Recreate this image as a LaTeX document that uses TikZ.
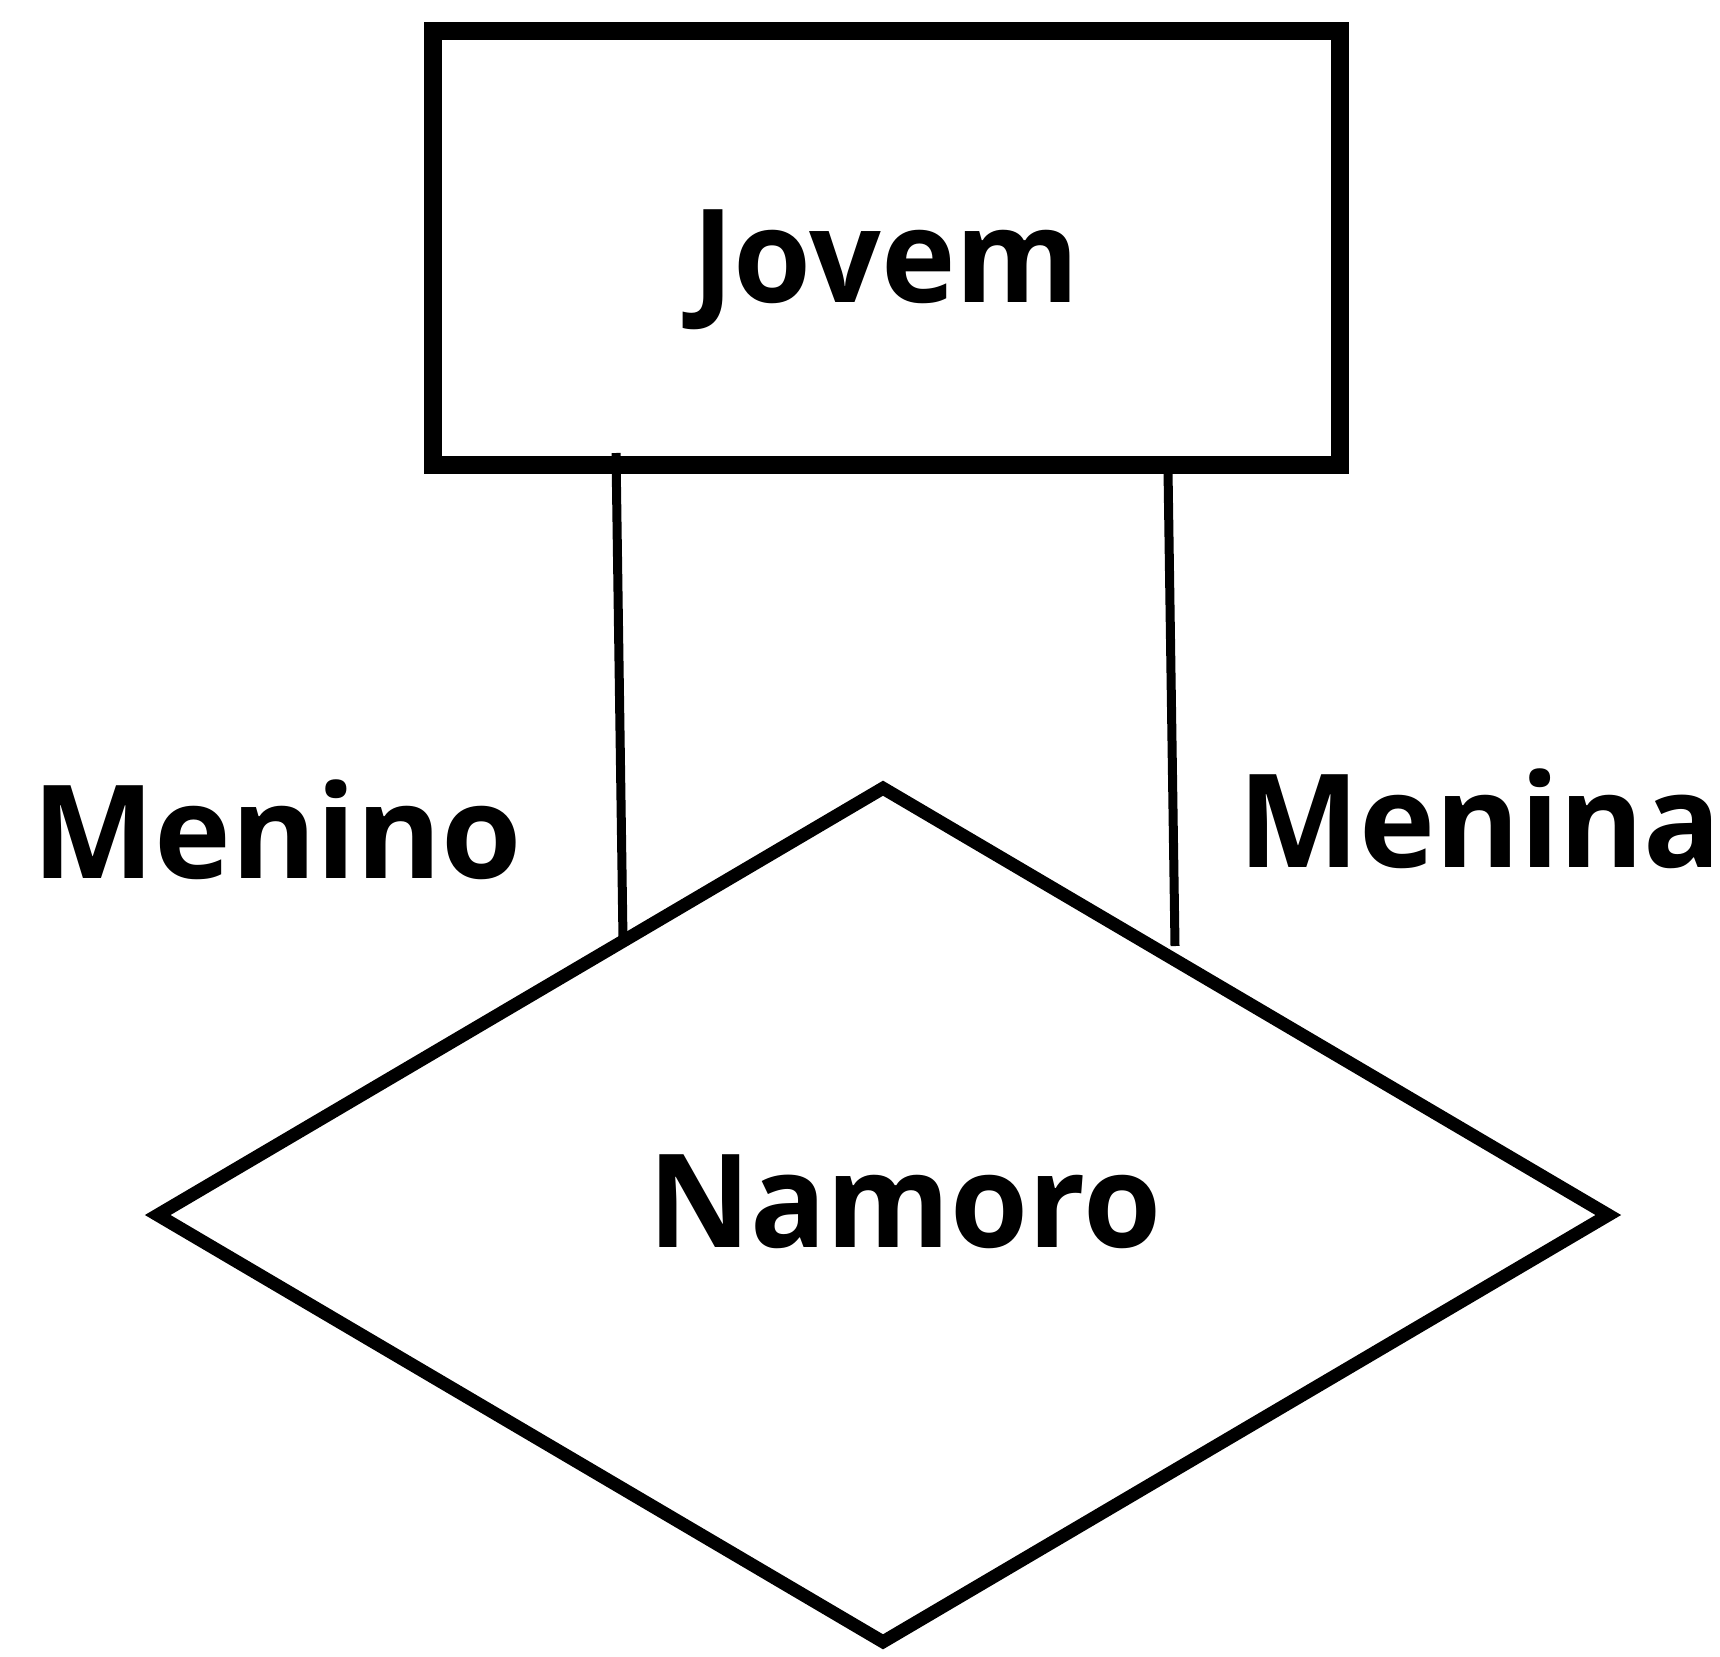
\documentclass[tikz,border=0pt]{standalone}
\usepackage{fontspec}
\setmainfont{Open Sans}
\usetikzlibrary{shapes.geometric}
\tikzset{
  lbl/.style={anchor=base west,inner sep=0pt,xscale=0.97,font=\fontsize{130}{150}\selectfont\bfseries},
  entity/.style={draw,line width=18pt,rectangle,inner sep=0pt,minimum width=907pt,minimum height=434pt},
  rel/.style={draw,line width=13pt,diamond,inner sep=0pt,minimum width=1456pt,minimum height=859pt},
  conn/.style={line width=9pt}
}
\begin{document}
\begin{tikzpicture}[x=1pt,y=-1pt]
\useasboundingbox (0,0) rectangle (1720,1656);
\node[entity] (jovem) at (886.5,248) {};
\node[rel] (namoro) at (883,1215) {};
\node[lbl] (jovemtxt) at (692,302) {Jovem};
\node[lbl] (namorotxt) at (648,1247) {Namoro};
\node[lbl,xscale=1.03] (menino) at (32,878) {Menino};
\node[lbl,xscale=1.02] (menina) at (1238,867) {Menina};
\coordinate (a1) at (616,453);
\coordinate (a2) at (623,940);
\coordinate (b1) at (1168,470);
\coordinate (b2) at (1175,946);
\draw[conn] (a1) -- (a2);
\draw[conn] (b1) -- (b2);
\end{tikzpicture}
\end{document}
